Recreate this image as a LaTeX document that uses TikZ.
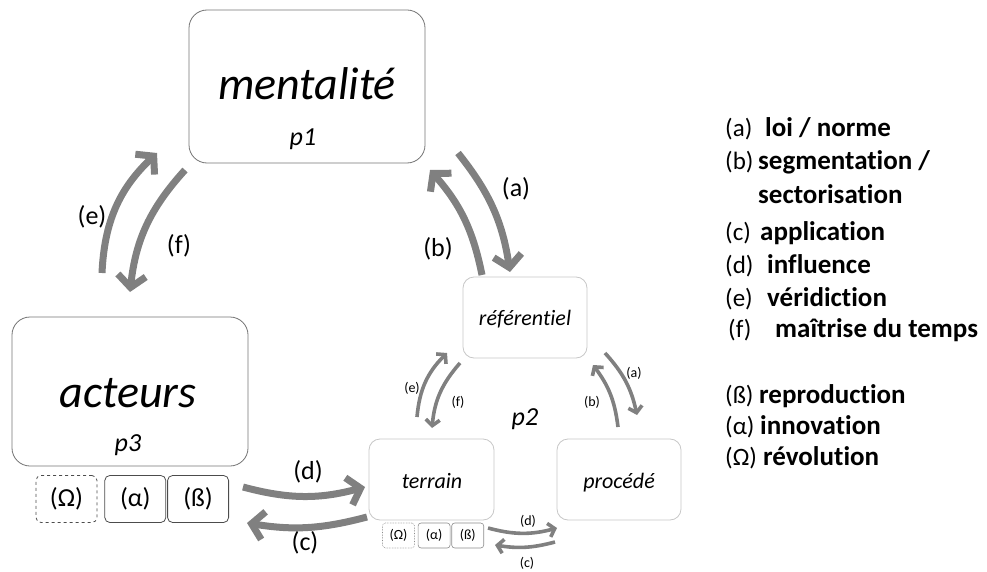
\documentclass[tikz,border=0pt]{standalone}
\usepackage{fontspec}
\setmainfont{Carlito}[Ligatures=NoCommon]
\usetikzlibrary{positioning,arrows.meta}
\definecolor{arrgray}{gray}{0.5}

\begin{document}
\begin{tikzpicture}[x=1pt, y=1pt,
      bigbox/.style={draw=black!55, line width=0.8pt, rounded corners=18pt},
      smallbox/.style={draw=black!22, line width=0.8pt, rounded corners=11pt},
      modebig/.style={draw=black!70, line width=0.8pt, rounded corners=5pt,
        minimum width=61pt, minimum height=47pt, inner sep=0pt,
        font=\fontsize{26}{30}\selectfont},
      modesmall/.style={draw=black!45, line width=0.6pt, rounded corners=3pt,
        minimum width=32pt, minimum height=25pt, inner sep=0pt,
        font=\fontsize{14}{16}\selectfont},
      bigname/.style={anchor=base, font=\fontsize{46}{50}\selectfont\itshape},
      pname/.style={anchor=base, font=\fontsize{26}{30}\selectfont\itshape},
      smallname/.style={anchor=base, font=\fontsize{22}{26}\selectfont\itshape},
      lab/.style={font=\fontsize{26}{30}\selectfont},
      slab/.style={font=\fontsize{14}{16}\selectfont},
      leg/.style={anchor=base west, inner sep=0pt, font=\fontsize{25}{30}\selectfont},
      legw/.style={anchor=base west, inner sep=0pt, font=\fontsize{27}{30}\selectfont\bfseries},
      flow/.style={arrgray, line width=7pt, -{Straight Barb[length=12pt,width=28pt]}},
      sflow/.style={arrgray, line width=3.6pt, -{Straight Barb[length=6pt,width=14pt]}}]

    \useasboundingbox (0,0) rectangle (987,-572);

    % p1
    \node[bigbox, minimum width=236pt, minimum height=153pt] (ment) at (307,-86.5) {};
    \node[bigname] (mentT) at (307,-100) {mentalité};
    \node[pname] (p1) at (303,-146) {p1};
    % p3
    \node[bigbox, minimum width=236pt, minimum height=149pt] (act) at (130,-391.5) {};
    \node[bigname] (actT) at (128,-407) {acteurs};
    \node[pname] (p3) at (128,-451) {p3};
    \node[modebig, dashed] (omega) at (66.5,-499) {(Ω)};
    \node[modebig, right=7pt of omega] (alpha) {(α)};
    \node[modebig, right=1pt of alpha] (beta) {(ß)};
    % p2
    \node[smallbox, minimum width=124pt, minimum height=81pt] (ref) at (525,-317.5) {};
    \node[smallname] (refT) at (525,-325) {référentiel};
    \node[smallbox, minimum width=125pt, minimum height=81pt] (ter) at (431.5,-479.5) {};
    \node[smallname] (terT) at (432,-488) {terrain};
    \node[smallbox, minimum width=124pt, minimum height=81pt] (proc) at (619,-479.5) {};
    \node[smallname] (procT) at (619,-488) {procédé};
    \node[pname] (p2) at (525,-425) {p2};
    \node[modesmall, densely dotted] (somega) at (398.5,-535.5) {(Ω)};
    \node[modesmall, right=3pt of somega] (salpha) {(α)};
    \node[modesmall, right=1pt of salpha] (sbeta) {(ß)};

    % big arrows
    \coordinate (eT) at (102,-273);  \coordinate (eH) at (157,-153);
    \coordinate (fT) at (185,-170);  \coordinate (fH) at (130,-292);
    \coordinate (aT) at (458,-153);  \coordinate (aH) at (510,-272);
    \coordinate (bT) at (482,-275);  \coordinate (bH) at (430,-170);
    \coordinate (dT) at (243,-487);  \coordinate (dH) at (365,-487);
    \coordinate (cT) at (367,-517);  \coordinate (cH) at (247,-523);
    \draw[flow] (eT) to[bend left=22] (eH);
    \draw[flow] (fT) to[bend right=18] (fH);
    \draw[flow] (aT) to[bend left=15] (aH);
    \draw[flow] (bT) to[bend right=15] (bH);
    \draw[flow] (dT) to[bend right=15] (dH);
    \draw[flow] (cT) to[bend left=12] (cH);
    \node[lab] (labE) at (92,-217) {(e)};
    \node[lab] (labF) at (179,-246) {(f)};
    \node[lab] (labA) at (516,-189) {(a)};
    \node[lab] (labB) at (438,-249) {(b)};
    \node[lab] (labD) at (308,-472) {(d)};
    \node[lab] (labC) at (305,-543) {(c)};

    % small arrows
    \coordinate (seT) at (417,-417); \coordinate (seH) at (447,-353);
    \coordinate (sfT) at (460,-363); \coordinate (sfH) at (432,-428);
    \coordinate (saT) at (605,-353); \coordinate (saH) at (637,-415);
    \coordinate (sbT) at (618,-427); \coordinate (sbH) at (593,-365);
    \coordinate (sdT) at (488,-528); \coordinate (sdH) at (557,-528);
    \coordinate (scT) at (555,-542); \coordinate (scH) at (495,-545);
    \draw[sflow] (seT) to[bend left=20] (seH);
    \draw[sflow] (sfT) to[bend right=18] (sfH);
    \draw[sflow] (saT) to[bend left=15] (saH);
    \draw[sflow] (sbT) to[bend right=15] (sbH);
    \draw[sflow] (sdT) to[bend right=15] (sdH);
    \draw[sflow] (scT) to[bend left=12] (scH);
    \node[slab] (slabE) at (412,-388) {(e)};
    \node[slab] (slabF) at (458,-402) {(f)};
    \node[slab] (slabA) at (634,-373) {(a)};
    \node[slab] (slabB) at (592,-402) {(b)};
    \node[slab] (slabD) at (528,-521) {(d)};
    \node[slab] (slabC) at (527,-563) {(c)};

    % legend
    \foreach \k/\kx/\wx/\y/\w in {(a)/725/765/137/{loi / norme},
        (b)/725/758/170/{segmentation /}, (c)/725/760/240/application,
        (d)/725/767/273/influence, (e)/725/767/306/véridiction,
        (f)/728/775/337/{maîtrise du temps}, (ß)/725/759/403/reproduction,
        (α)/725/760/434/innovation, (Ω)/725/763/465/révolution}
      {\node[leg] (k\y) at (\kx,-\y) {\k};
       \node[legw] (w\y) at (\wx,-\y) {\w};}
    \node[legw] (w204) at (758,-204) {sectorisation};
  \end{tikzpicture}
\end{document}
